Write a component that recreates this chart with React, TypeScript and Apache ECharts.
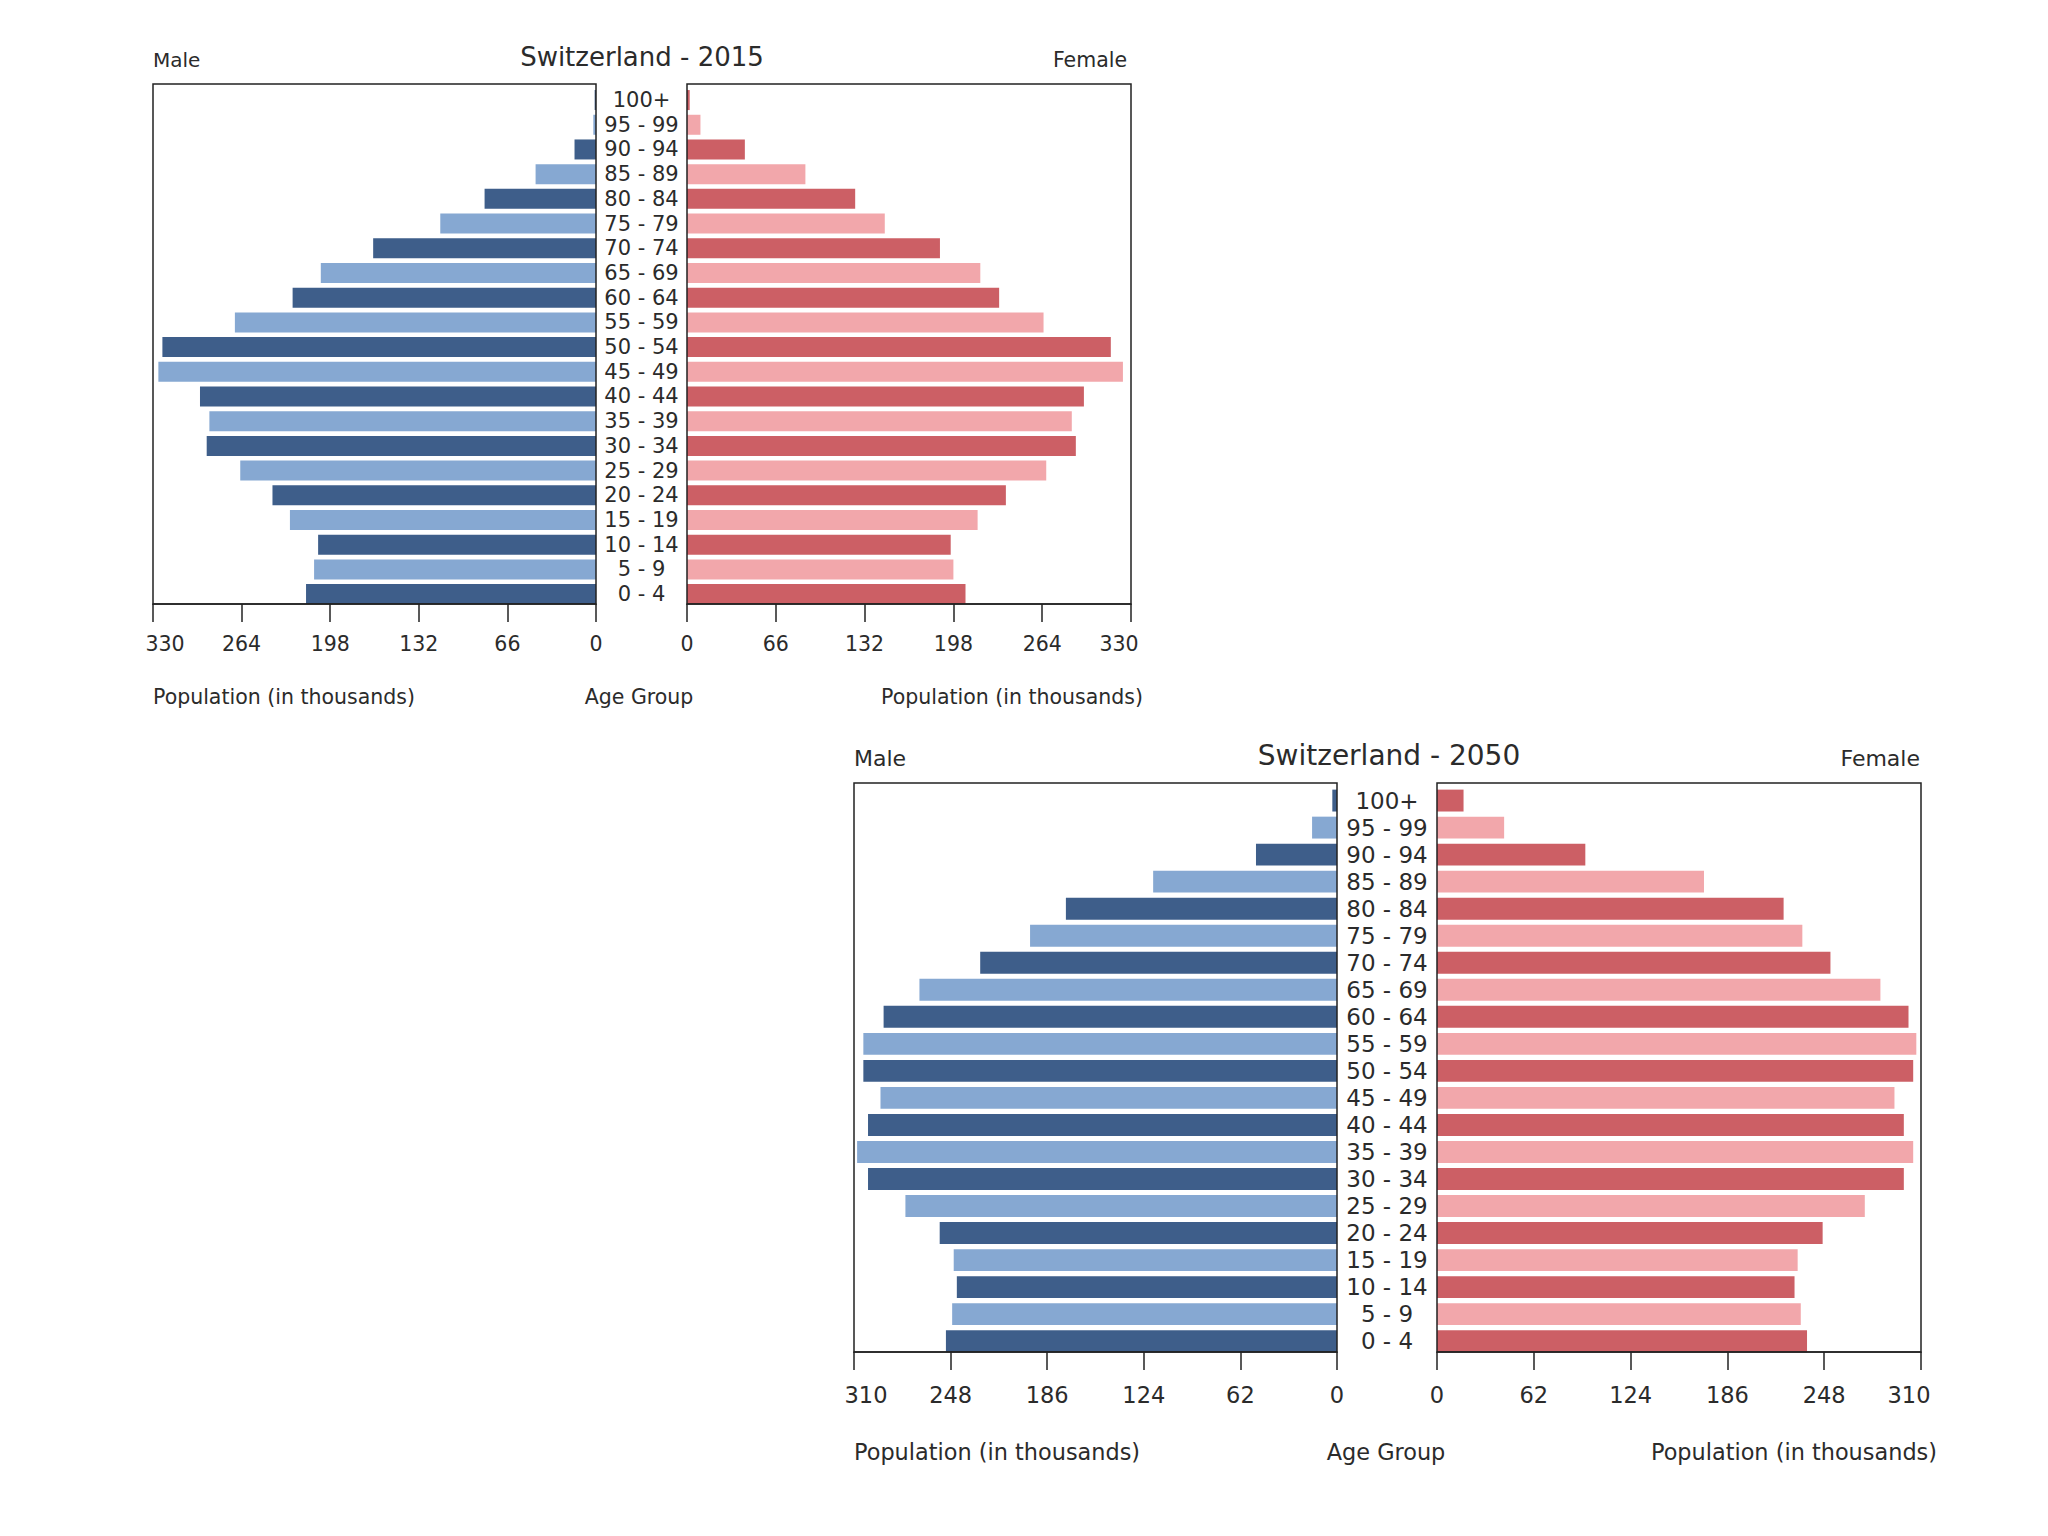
import React, { useEffect, useRef } from "react";
import * as echarts from "echarts";

const ageGroups = ["0 - 4", "5 - 9", "10 - 14", "15 - 19", "20 - 24", "25 - 29", "30 - 34", "35 - 39", "40 - 44", "45 - 49", "50 - 54", "55 - 59", "60 - 64", "65 - 69", "70 - 74", "75 - 79", "80 - 84", "85 - 89", "90 - 94", "95 - 99", "100+"];

const male2015 = [216, 210, 207, 228, 241, 265, 290, 288, 295, 326, 323, 269, 226, 205, 166, 116, 83, 45, 16, 2, 1];
const female2015 = [207, 198, 196, 216, 237, 267, 289, 286, 295, 324, 315, 265, 232, 218, 188, 147, 125, 88, 43, 10, 2];

const male2050 = [251, 247, 244, 246, 255, 277, 301, 308, 301, 293, 304, 304, 291, 268, 229, 197, 174, 118, 52, 16, 3];
const female2050 = [237, 233, 229, 231, 247, 274, 299, 305, 299, 293, 305, 307, 302, 284, 252, 234, 222, 171, 95, 43, 17];

const max2015 = 330;
const step2015 = 66;
const max2050 = 310;
const step2050 = 62;

const FONT = "DejaVu Sans";
const TEXT = "#2b2b2b";
const LINE = "#222222";
const BLUE_DARK = "#3e5e8a";
const BLUE_LIGHT = "#86a8d2";
const RED_DARK = "#cc5f65";
const RED_LIGHT = "#f2a7ab";

export default function App() {
  const ref = useRef<HTMLDivElement>(null);

  useEffect(() => {
    if (!ref.current) return;
    const chart = echarts.init(ref.current, undefined, { renderer: "svg" });

    const panels = [
      {
        male: male2015, female: female2015, max: max2015, step: step2015,
        mLeft: 153, mRight: 596, fLeft: 687, fRight: 1131, top: 84, bottom: 604,
        tickFont: 20.5, ageFont: 21, tickLen: 18, labelMargin: 29,
      },
      {
        male: male2050, female: female2050, max: max2050, step: step2050,
        mLeft: 854, mRight: 1337, fLeft: 1437, fRight: 1921, top: 783, bottom: 1352,
        tickFont: 22.5, ageFont: 23, tickLen: 18, labelMargin: 31,
      },
    ];

    const grids: any[] = [];
    const xAxes: any[] = [];
    const yAxes: any[] = [];
    const series: any[] = [];

    panels.forEach((p) => {
      const h = p.bottom - p.top;
      // vertical extent in category units: bars of 0.8 height, bottom bar touching the axis
      const range = 21.05;
      const u = h / range;
      const sides = [
        { left: p.mLeft, width: p.mRight - p.mLeft, data: p.male, inverse: true, colors: [BLUE_DARK, BLUE_LIGHT], showAge: false },
        { left: p.fLeft, width: p.fRight - p.fLeft, data: p.female, inverse: false, colors: [RED_DARK, RED_LIGHT], showAge: true },
      ];
      sides.forEach((s) => {
        // frame grid with the value axis
        const fi = grids.length;
        grids.push({
          left: s.left, top: p.top, width: s.width, height: h,
          show: true, borderColor: LINE, borderWidth: 1.5, backgroundColor: "transparent",
          z: 3,
        });
        const shiftKey = "e";
        xAxes.push({
          type: "value", gridIndex: fi, min: 0, max: p.max, interval: p.step, inverse: s.inverse,
          axisLine: { show: true, lineStyle: { color: LINE, width: 1.5 } },
          axisTick: { show: true, inside: false, length: p.tickLen, lineStyle: { color: LINE, width: 1.5 } },
          axisLabel: {
            show: true, fontFamily: FONT, fontSize: p.tickFont, color: TEXT, margin: p.labelMargin,
            formatter: (v: number) => (v === p.max ? `{${shiftKey}|${v}}` : `${v}`),
            rich: {
              e: {
                fontFamily: FONT, fontSize: p.tickFont, color: TEXT,
                padding: s.inverse ? [0, 0, 0, 24] : [0, 24, 0, 0],
              },
            },
          },
          splitLine: { show: false },
          z: 3,
        });
        yAxes.push({
          type: "value", gridIndex: fi, min: 0, max: 1, show: false,
        });

        // bar grid: category bands, extended slightly below the frame so the lowest bar sits on the axis
        const bi = grids.length;
        grids.push({
          left: s.left, top: p.top + 0.15 * u, width: s.width, height: 21 * u,
          show: false,
        });
        xAxes.push({
          type: "value", gridIndex: bi, min: 0, max: p.max, interval: p.step, inverse: s.inverse,
          show: false, splitLine: { show: false },
        });
        yAxes.push({
          type: "category", gridIndex: bi, data: ageGroups,
          axisLine: { show: false }, axisTick: { show: false },
          axisLabel: {
            show: s.showAge, interval: 0, fontFamily: FONT, fontSize: p.ageFont, color: TEXT,
            align: "center", margin: (p.fLeft - p.mRight) / 2,
          },
          splitLine: { show: false },
        });
        series.push({
          type: "bar", xAxisIndex: bi, yAxisIndex: bi, data: s.data,
          barCategoryGap: "19%",
          itemStyle: { color: (d: any) => (d.dataIndex % 2 === 0 ? s.colors[0] : s.colors[1]) },
          emphasis: { disabled: true },
          silent: true,
        });
      });
    });

    const txt = (text: string, x: number, y: number, size: number, align: string) => ({
      type: "text", x, y, silent: true,
      style: { text, fontFamily: FONT, fontSize: size, fill: TEXT, align, verticalAlign: "middle" },
    });

    const graphic = [
      txt("Male", 153, 60, 20, "left"),
      txt("Switzerland - 2015", 642, 57, 26, "center"),
      txt("Female", 1127, 60, 20.5, "right"),
      txt("Population (in thousands)", 153, 697, 20.5, "left"),
      txt("Age Group", 639, 697, 20.5, "center"),
      txt("Population (in thousands)", 1143, 697, 20.5, "right"),

      txt("Male", 854, 758, 22, "left"),
      txt("Switzerland - 2050", 1389, 755, 28, "center"),
      txt("Female", 1920, 758, 22, "right"),
      txt("Population (in thousands)", 854, 1452, 22.4, "left"),
      txt("Age Group", 1386, 1452, 22.4, "center"),
      txt("Population (in thousands)", 1937, 1452, 22.4, "right"),
    ];

    chart.setOption({
      animation: false,
      backgroundColor: "#ffffff",
      grid: grids,
      xAxis: xAxes,
      yAxis: yAxes,
      series,
      graphic,
    });

    return () => chart.dispose();
  }, []);

  return (
    <div
      ref={ref}
      style={{ position: "fixed", left: 0, top: 0, width: 2048, height: 1536, background: "#fff" }}
    />
  );
}
